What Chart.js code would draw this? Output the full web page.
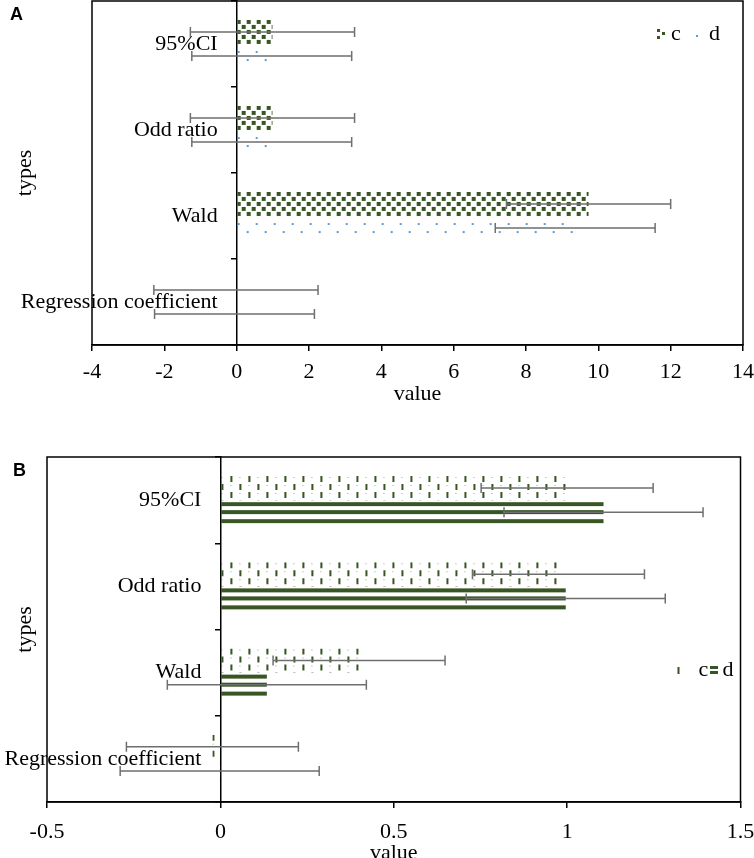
<!DOCTYPE html>
<html>
<head>
<meta charset="utf-8">
<script src="https://cdn.jsdelivr.net/npm/chart.js@4.4.1/dist/chart.umd.min.js"></script>
<style>
  body { margin: 0; background: #fff; overflow: hidden; }
  #wrap { position: relative; width: 754px; height: 858px; overflow: hidden; background: #fff; }
  canvas { position: absolute; left: 0; }
  #chartA { top: 0; }
  #chartB { top: 440px; }
  .panel { position: absolute; font: bold 18px "Liberation Sans", Arial, sans-serif; line-height: 18px; color: #000; }
</style>
</head>
<body>
<div id="wrap">
  <canvas id="chartA" width="754" height="410"></canvas>
  <canvas id="chartB" width="754" height="430"></canvas>
  <div class="panel" style="left:10px;top:5px">A</div>
  <div class="panel" style="left:13px;top:461px">B</div>
</div>
<script>
// categories and series
const types = ["95%CI", "Odd ratio", "Wald", "Regression coefficient"];
const seriesNames = ["c", "d"];

// panel A
const cValuesA = [0.99, 0.99, 9.73, -0.02];
const dValuesA = [0.97, 0.97, 9.36, -0.06];
const cErrorA = [2.27, 2.27, 2.27, 2.27];
const dErrorA = [2.21, 2.21, 2.21, 2.21];
const xTicksA = [-4, -2, 0, 2, 4, 6, 8, 10, 12, 14];

// panel B
const cValuesB = [1.0, 0.975, 0.40, -0.023];
const dValuesB = [1.105, 0.996, 0.134, -0.002];
const cErrorB = [0.248, 0.248, 0.248, 0.248];
const dErrorB = [0.287, 0.287, 0.287, 0.287];
const xTicksB = [-0.5, 0, 0.5, 1, 1.5];

const green = "#375623";
const blue = "#5b9bd5";
const catPct = 0.56;
const labelGap = 19; // px between category labels and the zero line
const canvasWidth = 754;
const serif = { family: '"Liberation Serif", "Times New Roman", serif', size: 22 };

function makeTile(w, h, draw) {
  const c = document.createElement("canvas");
  c.width = w;
  c.height = h;
  draw(c.getContext("2d"));
  return c;
}

// fill patterns (Excel-like)
const checkerTile = makeTile(10, 10, g => {
  g.fillStyle = green;
  g.fillRect(0, 0, 4, 4);
  g.fillRect(5, 5, 4, 4);
});
const dotTile = makeTile(18, 18, g => {
  g.fillStyle = blue;
  g.fillRect(1, 7, 2, 2);
  g.fillRect(10, 15, 2, 2);
});
const dashTile = makeTile(18, 16, g => {
  g.fillStyle = green;
  g.fillRect(10, 0, 2, 6);
  g.fillRect(1, 8, 2, 6);
  g.globalAlpha = 0.5;
  g.fillRect(1, 1, 1, 1);
  g.fillRect(10, 9, 1, 1);
});
const stripeTile = makeTile(4, 17, g => {
  g.fillStyle = green;
  g.fillRect(0, 2, 4, 4);
  g.fillRect(0, 10, 4, 4);
});

// legend icons
const checkerIcon = makeTile(8, 10, g => {
  g.fillStyle = green;
  g.fillRect(0, 0, 3, 3);
  g.fillRect(5, 3, 3, 3);
  g.fillRect(0, 7, 3, 3);
});
const dotIcon = makeTile(6, 9, g => {
  g.fillStyle = blue;
  g.fillRect(2, 5, 2, 2);
});
const dashIcon = makeTile(4, 9, g => {
  g.fillStyle = green;
  g.fillRect(1, 1, 2, 7);
});
const stripeIcon = makeTile(8, 10, g => {
  g.fillStyle = green;
  g.fillRect(0, 1, 8, 3);
  g.fillRect(0, 6, 8, 3);
});

// pattern anchored on the zero line and the top of each bar
function patternFill(tile, dsIndex) {
  return function (ctx) {
    const chart = ctx.chart;
    const pattern = chart.ctx.createPattern(tile, "repeat");
    const ys = chart.scales.y;
    const xs = chart.scales.x;
    if (!ys || !xs || ctx.dataIndex === undefined) return pattern;
    const center = ys.getPixelForValue(ctx.dataIndex);
    const band = Math.abs(ys.getPixelForValue(1) - ys.getPixelForValue(0));
    const barH = band * catPct / 2;
    const top = dsIndex === 0 ? center - barH : center;
    const x0 = xs.getPixelForValue(0);
    if (isFinite(top) && isFinite(x0)) {
      pattern.setTransform(new DOMMatrix([1, 0, 0, 1, x0, top]));
    }
    return pattern;
  };
}

const errorBars = {
  id: "errorBars",
  afterDatasetsDraw(chart) {
    const { ctx } = chart;
    const x = chart.scales.x;
    ctx.save();
    ctx.strokeStyle = "#6f6f6f";
    ctx.lineWidth = 1.5;
    chart.data.datasets.forEach((ds, i) => {
      const meta = chart.getDatasetMeta(i);
      meta.data.forEach((bar, j) => {
        const v = ds.data[j];
        const e = ds.errors[j];
        const x1 = x.getPixelForValue(v - e);
        const x2 = x.getPixelForValue(v + e);
        const y = bar.y;
        ctx.beginPath();
        ctx.moveTo(x1, y);
        ctx.lineTo(x2, y);
        ctx.moveTo(x1, y - 5);
        ctx.lineTo(x1, y + 5);
        ctx.moveTo(x2, y - 5);
        ctx.lineTo(x2, y + 5);
        ctx.stroke();
      });
    });
    ctx.restore();
  }
};

const frame = {
  id: "frame",
  afterDraw(chart) {
    const { ctx, chartArea: a } = chart;
    ctx.save();
    ctx.strokeStyle = "#000";
    ctx.lineWidth = 1.5;
    ctx.strokeRect(a.left, a.top, a.right - a.left, a.bottom - a.top);
    ctx.restore();
  }
};

function makeLegend(items, y) {
  return {
    id: "patternLegend",
    afterDraw(chart) {
      const { ctx, chartArea } = chart;
      ctx.save();
      ctx.font = '22px "Liberation Serif", "Times New Roman", serif';
      ctx.fillStyle = "#000";
      ctx.textBaseline = "middle";
      items.forEach(it => {
        const x = chartArea.right - it.iconFromRight;
        ctx.drawImage(it.icon, x, Math.round(y - it.icon.height / 2));
        ctx.fillText(it.text, chartArea.right - it.textFromRight, y);
      });
      ctx.restore();
    }
  };
}

function buildChart(canvasId, opt) {
  const xMin = opt.xTicks[0];
  const xMax = opt.xTicks[opt.xTicks.length - 1];
  const plotWidth = canvasWidth - opt.padding.right - opt.yTitleWidth;
  const labelX = -labelGap * (xMax - xMin) / plotWidth;

  return new Chart(document.getElementById(canvasId), {
    type: "bar",
    data: {
      labels: types,
      datasets: [
        {
          label: seriesNames[0],
          data: opt.c,
          errors: opt.cErr,
          backgroundColor: patternFill(opt.cTile, 0),
          borderWidth: 0,
          categoryPercentage: catPct,
          barPercentage: 1.0
        },
        {
          label: seriesNames[1],
          data: opt.d,
          errors: opt.dErr,
          backgroundColor: patternFill(opt.dTile, 1),
          borderWidth: 0,
          categoryPercentage: catPct,
          barPercentage: 1.0
        }
      ]
    },
    options: {
      indexAxis: "y",
      responsive: false,
      animation: false,
      layout: { padding: opt.padding },
      plugins: {
        legend: { display: false },
        tooltip: { enabled: false }
      },
      scales: {
        x: {
          type: "linear",
          min: xMin,
          max: xMax,
          afterBuildTicks(s) {
            s.ticks = opt.xTicks.map(v => ({ value: v }));
          },
          grid: { display: true, drawOnChartArea: false, tickLength: 6, color: "#000", lineWidth: 1.5 },
          border: { display: true, color: "#000", width: 1.5 },
          ticks: { color: "#000", font: serif, padding: opt.xTickPad, maxRotation: 0, callback: v => String(v) },
          title: { display: true, text: "value", color: "#000", font: serif, padding: { top: 0, bottom: opt.xTitlePad } },
          afterFit(s) {
            s.height = opt.xHeight;
            s.paddingLeft = 0;
            s.paddingRight = 0;
          }
        },
        // zero line with the category tick marks
        y: {
          type: "category",
          position: { x: 0 },
          grid: { display: true, offset: true, drawOnChartArea: false, tickLength: 5, color: "#000", lineWidth: 1.5 },
          border: { display: true, color: "#000", width: 1.5 },
          ticks: { display: false },
          afterFit(s) {
            s.paddingTop = 0;
            s.paddingBottom = 0;
          }
        },
        // category names, right-aligned a little left of the zero line
        yLabels: {
          type: "category",
          axis: "y",
          offset: true,
          position: { x: labelX },
          grid: { display: false },
          border: { display: false },
          ticks: { color: "#000", font: serif, autoSkip: false },
          afterFit(s) {
            s.paddingTop = 0;
            s.paddingBottom = 0;
          }
        },
        yTitle: {
          type: "category",
          axis: "y",
          position: "left",
          grid: { display: false },
          border: { display: false },
          ticks: { display: false },
          title: { display: true, text: "types", color: "#000", font: serif, padding: { top: 12, bottom: 0 } },
          afterFit(s) {
            s.width = opt.yTitleWidth;
            s.paddingTop = 0;
            s.paddingBottom = 0;
          }
        }
      }
    },
    plugins: [errorBars, frame, makeLegend(opt.legend, opt.legendY)]
  });
}

buildChart("chartA", {
  c: cValuesA, d: dValuesA, cErr: cErrorA, dErr: dErrorA,
  cTile: checkerTile, dTile: dotTile,
  xTicks: xTicksA,
  padding: { top: 1, right: 11, bottom: 0, left: 0 },
  xHeight: 65, xTickPad: 8, xTitlePad: 3, yTitleWidth: 92,
  legendY: 34,
  legend: [
    { icon: checkerIcon, iconFromRight: 86, text: "c", textFromRight: 72 },
    { icon: dotIcon, iconFromRight: 49, text: "d", textFromRight: 34 }
  ]
});

buildChart("chartB", {
  c: cValuesB, d: dValuesB, cErr: cErrorB, dErr: dErrorB,
  cTile: dashTile, dTile: stripeTile,
  xTicks: xTicksB,
  padding: { top: 17, right: 13.5, bottom: 0, left: 0 },
  xHeight: 68, xTickPad: 11, xTitlePad: 4, yTitleWidth: 47,
  legendY: 230,
  legend: [
    { icon: dashIcon, iconFromRight: 64, text: "c", textFromRight: 42 },
    { icon: stripeIcon, iconFromRight: 31, text: "d", textFromRight: 18 }
  ]
});
</script>
</body>
</html>
